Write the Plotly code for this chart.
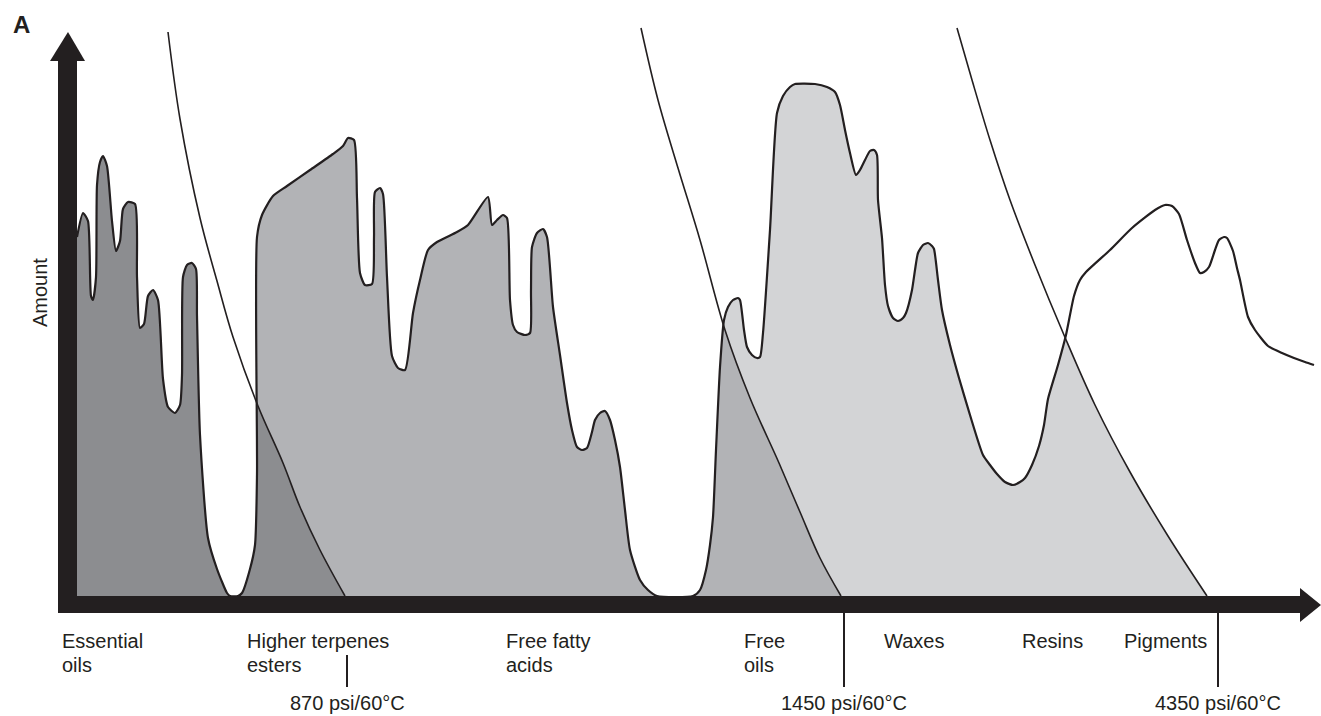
import plotly.graph_objects as go

outline_x = [0, 6, 11, 14, 16, 19, 20, 23, 26, 30, 35, 39, 43, 46, 51, 58, 60, 63, 67, 71,
             76, 81, 86, 91, 98, 103, 105, 106, 110, 115, 119, 120, 123, 131, 140, 150, 153, 161, 165, 173,
             178, 180, 180, 185, 196, 210, 233, 256, 266, 271, 277, 280, 283, 288, 295, 297, 298, 303, 306, 310,
             315, 321, 328, 336, 343, 351, 360, 380, 391, 411, 415, 420, 426, 430, 433, 436, 440, 448, 453, 454,
             455, 460, 466, 470, 476, 483, 490, 495, 500, 505, 510, 515, 518, 523, 528, 533, 538, 543, 548, 553,
             563, 571, 580, 616, 623, 629, 633, 636, 639, 643, 647, 651, 656, 661, 663, 667, 670, 675, 680, 683,
             686, 693, 700, 706, 713, 718, 738, 750, 758, 763, 768, 773, 779, 783, 788, 793, 797, 800, 801, 805,
             808, 811, 816, 821, 826, 829, 835, 838, 841, 846, 851, 855, 857, 861, 865, 873, 882, 893, 906, 913,
             920, 928, 936, 943, 948, 955, 962, 967, 971, 981, 989, 997, 1003, 1009, 1033, 1055, 1078, 1088, 1095, 1102,
             1110, 1118, 1123, 1127, 1132, 1138, 1142, 1147, 1150, 1156, 1160, 1163, 1171, 1178, 1191, 1205, 1217, 1228, 1237]
outline_y = [359, 383, 375, 300, 296, 319, 411, 434, 440, 430, 375, 345, 355, 387, 394, 392, 319, 268, 272, 300,
             306, 296, 217, 189, 183, 191, 221, 319, 331, 333, 327, 280, 161, 58, 27, 3, 0, 0, 3, 27,
             51, 122, 359, 381, 400, 410, 426, 442, 450, 458, 456, 398, 323, 311, 312, 359, 404, 408, 402, 319,
             240, 228, 226, 283, 316, 346, 354, 364, 371, 399, 371, 376, 381, 378, 296, 271, 264, 261, 263, 306,
             349, 363, 367, 359, 289, 241, 193, 166, 149, 146, 148, 164, 176, 183, 185, 176, 156, 129, 86, 46,
             16, 6, 0, 0, 6, 26, 51, 79, 146, 229, 276, 289, 296, 298, 296, 266, 249, 241, 238, 239,
             263, 366, 483, 500, 509, 512, 512, 509, 504, 491, 466, 443, 421, 426, 436, 445, 446, 441, 396, 358,
             311, 290, 278, 275, 278, 283, 306, 326, 343, 351, 353, 350, 347, 316, 286, 251, 218, 181, 141, 131,
             122, 114, 111, 114, 118, 131, 150, 171, 197, 231, 261, 300, 316, 324, 346, 368, 386, 391, 390, 382,
             356, 333, 323, 324, 329, 346, 356, 359, 358, 345, 328, 316, 279, 266, 250, 243, 238, 234, 231]
assert len(outline_x) == len(outline_y)

# extraction cut-off curves for the three pressure steps
cut1_x = [91, 103, 123, 140, 156, 181, 206, 223, 243, 268]
cut1_y = [564, 477, 378, 315, 259, 190, 133, 89, 46, 0]
cut2_x = [564, 581, 601, 623, 648, 673, 702, 723, 743, 764]
cut2_y = [568, 496, 428, 356, 266, 198, 133, 84, 38, 0]
cut3_x = [880, 895, 913, 933, 958, 987, 1018, 1053, 1091, 1130]
cut3_y = [568, 516, 456, 396, 331, 261, 191, 124, 60, 0]

categories = [["Essential", "oils"], ["Higher terpenes", "esters"], ["Free fatty", "acids"],
              ["Free", "oils"], ["Waxes"], ["Resins"], ["Pigments"]]
category_x = [-17, 168, 427, 665, 805, 943, 1045]

pressures = ["870 psi/60°C", "1450 psi/60°C", "4350 psi/60°C"]
pressure_x = [270, 767, 1141]
pressure_tick_top = [-59, -17, -17]

INK = "#231f20"
FONT = "Liberation Sans, Arial, sans-serif"

fig = go.Figure()

for cx, cy, col in [(cut3_x, cut3_y, "#d3d4d6"), (cut2_x, cut2_y, "#b2b3b6"), (cut1_x, cut1_y, "#8c8d90")]:
    fig.add_trace(go.Scatter(x=cx, y=cy, mode="lines", fill="tozerox", fillcolor=col,
                             line=dict(width=0, shape="spline"), hoverinfo="skip"))

# white out everything above the elution profile
fig.add_trace(go.Scatter(x=[outline_x[0], outline_x[-1]], y=[590, 590], mode="lines",
                         line=dict(width=0), hoverinfo="skip"))
fig.add_trace(go.Scatter(x=outline_x, y=outline_y, mode="lines", fill="tonexty", fillcolor="white",
                         line=dict(color=INK, width=2.2, shape="spline", smoothing=0.6), hoverinfo="skip"))

for cx, cy in [(cut1_x, cut1_y), (cut2_x, cut2_y), (cut3_x, cut3_y)]:
    fig.add_trace(go.Scatter(x=cx, y=cy, mode="lines",
                             line=dict(color=INK, width=1.6, shape="spline"), hoverinfo="skip"))

shapes = [
    dict(type="rect", x0=-19, x1=0, y0=-17, y1=536, fillcolor=INK, line_width=0),
    dict(type="path", path="M -27,535 L -9,564 L 8,535 Z", fillcolor=INK, line_width=0),
    dict(type="rect", x0=-19, x1=1224, y0=-17, y1=0, fillcolor=INK, line_width=0),
    dict(type="path", path="M 1223,8 L 1244,-9 L 1223,-26 Z", fillcolor=INK, line_width=0),
]
for px, top in zip(pressure_x, pressure_tick_top):
    shapes.append(dict(type="line", x0=px, x1=px, y0=top, y1=-91, line=dict(color=INK, width=2)))
for s in shapes:
    s["layer"] = "above"

annotations = []
for lines, x in zip(categories, category_x):
    for i, txt in enumerate(lines):
        annotations.append(dict(x=x, y=-45 - 24 * i, text=txt, xanchor="left", yanchor="middle",
                                showarrow=False, font=dict(size=20, color=INK, family=FONT)))
for txt, x in zip(pressures, pressure_x):
    annotations.append(dict(x=x, y=-107, text=txt, xanchor="center", yanchor="middle",
                            showarrow=False, font=dict(size=20, color=INK, family=FONT)))
annotations.append(dict(x=-37, y=303, text="Amount", textangle=-90, showarrow=False,
                        font=dict(size=20, color=INK, family=FONT)))
annotations.append(dict(x=-66, y=572, text="<b>A</b>", xanchor="left", showarrow=False,
                        font=dict(size=24, color=INK, family=FONT)))

fig.update_layout(
    width=1321, height=716,
    margin=dict(l=0, r=0, t=0, b=0),
    paper_bgcolor="white", plot_bgcolor="white",
    showlegend=False,
    xaxis=dict(range=[-77, 1244], visible=False, fixedrange=True),
    yaxis=dict(range=[-120, 596], visible=False, fixedrange=True),
    shapes=shapes,
    annotations=annotations,
)

# page body has a default 8px margin; drop it so the figure fills the window
fig.write_html("out.html", config={"displayModeBar": False},
               post_script="document.body.style.margin='0';document.body.style.overflow='hidden';")
